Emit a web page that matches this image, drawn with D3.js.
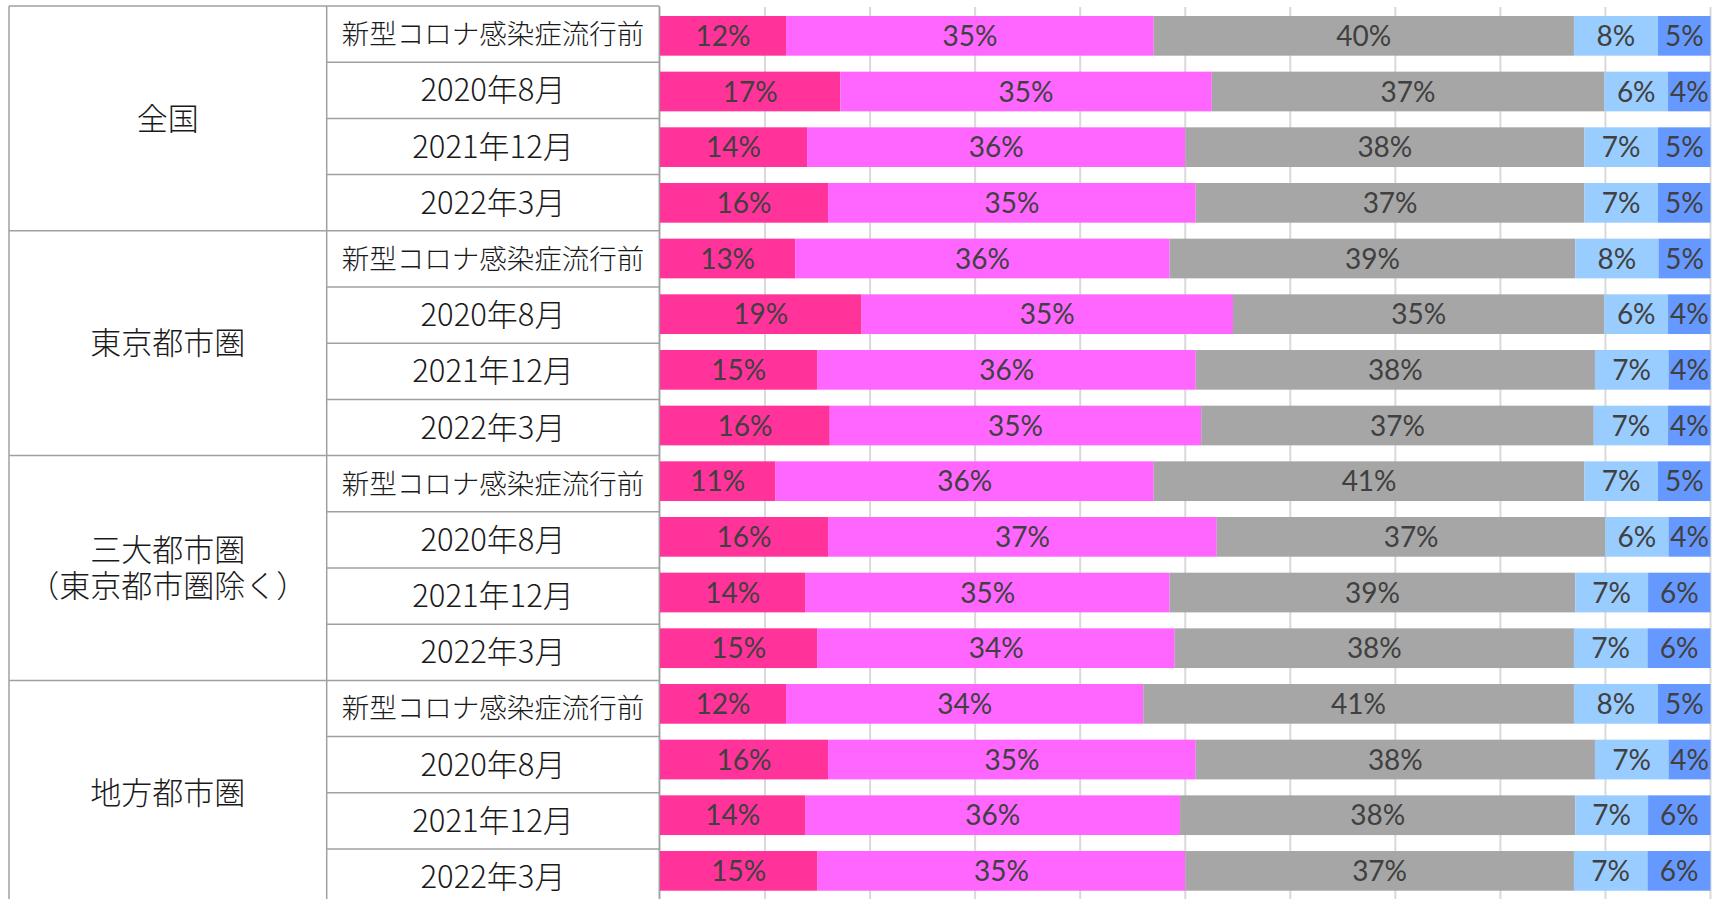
<!DOCTYPE html>
<html lang="ja">
<head>
<meta charset="utf-8">
<script src="https://cdn.jsdelivr.net/npm/d3@7/dist/d3.min.js"></script>
<style>
  html, body { margin: 0; padding: 0; background: #ffffff; }
  svg { display: block; }
</style>
</head>
<body>
<svg id="chart" width="1721" height="899"></svg>
<script>
// Region groups (left column) and survey periods (second column)
const groups = [["全国"], ["東京都市圏"], ["三大都市圏", "（東京都市圏除く）"], ["地方都市圏"]];
const periods = ["新型コロナ感染症流行前", "2020年8月", "2021年12月", "2022年3月"];

// Shares (%) per row, rows ordered group by group, period by period
const seg1 = [12, 17, 14, 16, 13, 19, 15, 16, 11, 16, 14, 15, 12, 16, 14, 15];
const seg2 = [35, 35, 36, 35, 36, 35, 36, 35, 36, 37, 35, 34, 34, 35, 36, 35];
const seg3 = [40, 37, 38, 37, 39, 35, 38, 37, 41, 37, 39, 38, 41, 38, 38, 37];
const seg4 = [8, 6, 7, 7, 8, 6, 7, 7, 7, 6, 7, 7, 8, 7, 7, 7];
const seg5 = [5, 4, 5, 5, 5, 4, 4, 4, 5, 4, 6, 6, 5, 4, 6, 6];

const seriesKeys = ["seg1", "seg2", "seg3", "seg4", "seg5"];
const seriesColors = ["#FF3399", "#FF66FF", "#A6A6A6", "#99CCFF", "#6699FF"];
const gridTicks = [0, 0.1, 0.2, 0.3, 0.4, 0.5, 0.6, 0.7, 0.8, 0.9, 1];

const seriesValues = { seg1, seg2, seg3, seg4, seg5 };
const rows = seg1.map((_, i) => {
  const r = { id: i, group: Math.floor(i / periods.length), period: periods[i % periods.length] };
  seriesKeys.forEach(k => { r[k] = seriesValues[k][i]; });
  return r;
});

const svg = d3.select("#chart");
svg.append("rect").attr("width", 1721).attr("height", 899).attr("fill", "#ffffff");

// ---- layout ----
const tableLeft = 9, tableMid = 326.7, tableRight = 659.3, tableTop = 6, tableRowH = 56.2;
const plotLeft = 660, plotRight = 1710.5, plotTop = 8, plotBottom = 898.7;

// ---- scales ----
const x = d3.scaleLinear().domain([0, 1]).range([plotLeft, plotRight]);
const y = d3.scaleBand()
  .domain(rows.map(d => d.id))
  .range([plotTop, plotBottom])
  .paddingInner(0.287)
  .paddingOuter(0.1435);
const color = d3.scaleOrdinal().domain(seriesKeys).range(seriesColors);

// 100% stacked layout
const stacked = d3.stack().keys(seriesKeys).offset(d3.stackOffsetExpand)(rows);

// ---- vertical gridlines ----
svg.append("g")
  .selectAll("line")
  .data(gridTicks)
  .join("line")
  .attr("x1", d => x(d)).attr("x2", d => x(d))
  .attr("y1", 7).attr("y2", 899)
  .attr("stroke", "#d9d9d9")
  .attr("stroke-width", 2);

// ---- bars ----
const layers = svg.append("g")
  .selectAll("g")
  .data(stacked)
  .join("g")
  .attr("fill", d => color(d.key));

layers.selectAll("rect")
  .data(d => d)
  .join("rect")
  .attr("x", d => x(d[0]))
  .attr("width", d => x(d[1]) - x(d[0]))
  .attr("y", d => y(d.data.id))
  .attr("height", y.bandwidth());

// ---- value labels ----
const labelG = svg.append("g")
  .attr("font-family", "Lato, 'Open Sans', sans-serif")
  .attr("font-size", 28)
  .attr("fill", "#404040")
  .attr("text-anchor", "middle");

stacked.forEach(layer => {
  labelG.selectAll(null)
    .data(layer)
    .join("text")
    .attr("x", d => x((d[0] + d[1]) / 2))
    .attr("y", d => y(d.data.id) + y.bandwidth() / 2)
    .attr("dy", "0.36em")
    .text(d => d.data[layer.key] + "%");
});

// ---- category table ----
const tY = d3.scaleLinear().domain([0, rows.length]).range([tableTop, tableTop + rows.length * tableRowH]);
const table = svg.append("g");
const borderColor = "#a0a0a0";

// period row separators (second column)
table.selectAll("line.sub")
  .data(d3.range(1, rows.length).filter(i => i % periods.length !== 0))
  .join("line")
  .attr("class", "sub")
  .attr("x1", tableMid).attr("x2", tableRight)
  .attr("y1", d => tY(d)).attr("y2", d => tY(d))
  .attr("stroke", borderColor).attr("stroke-width", 1.5);

// group separators and top border (full width)
table.selectAll("line.grp")
  .data(d3.range(0, rows.length + 1, periods.length))
  .join("line")
  .attr("class", "grp")
  .attr("x1", tableLeft).attr("x2", tableRight)
  .attr("y1", d => tY(d)).attr("y2", d => tY(d))
  .attr("stroke", borderColor).attr("stroke-width", 1.5);

// vertical borders
table.selectAll("line.col")
  .data([tableLeft, tableMid, tableRight])
  .join("line")
  .attr("class", "col")
  .attr("x1", d => d).attr("x2", d => d)
  .attr("y1", tableTop).attr("y2", 899)
  .attr("stroke", borderColor).attr("stroke-width", 1.5);

const tableFont = "'Noto Sans CJK JP', 'Noto Sans', sans-serif";

// period labels
table.append("g")
  .attr("font-family", tableFont)
  .attr("font-weight", 300)
  .attr("fill", "#1a1a1a")
  .attr("text-anchor", "middle")
  .selectAll("text")
  .data(rows)
  .join("text")
  .attr("x", (tableMid + tableRight) / 2)
  .attr("y", d => (tY(d.id) + tY(d.id + 1)) / 2)
  .attr("dy", "0.36em")
  .attr("font-size", d => d.period.length > 8 ? 27.5 : 31)
  .text(d => d.period);

// group labels
const grpText = table.append("g")
  .attr("font-family", tableFont)
  .attr("font-weight", 300)
  .attr("font-size", 31)
  .attr("fill", "#1a1a1a")
  .attr("text-anchor", "middle")
  .selectAll("text")
  .data(groups)
  .join("text")
  .attr("x", (tableLeft + tableMid) / 2)
  .attr("y", (d, i) => (tY(i * periods.length) + tY((i + 1) * periods.length)) / 2);

grpText.selectAll("tspan")
  .data(d => d.map((line, j) => ({ line, j, n: d.length })))
  .join("tspan")
  .attr("x", (tableLeft + tableMid) / 2)
  .attr("dy", d => d.j === 0 ? `${0.36 - (d.n - 1) * 0.58}em` : "1.16em")
  .text(d => d.line);
</script>
</body>
</html>
